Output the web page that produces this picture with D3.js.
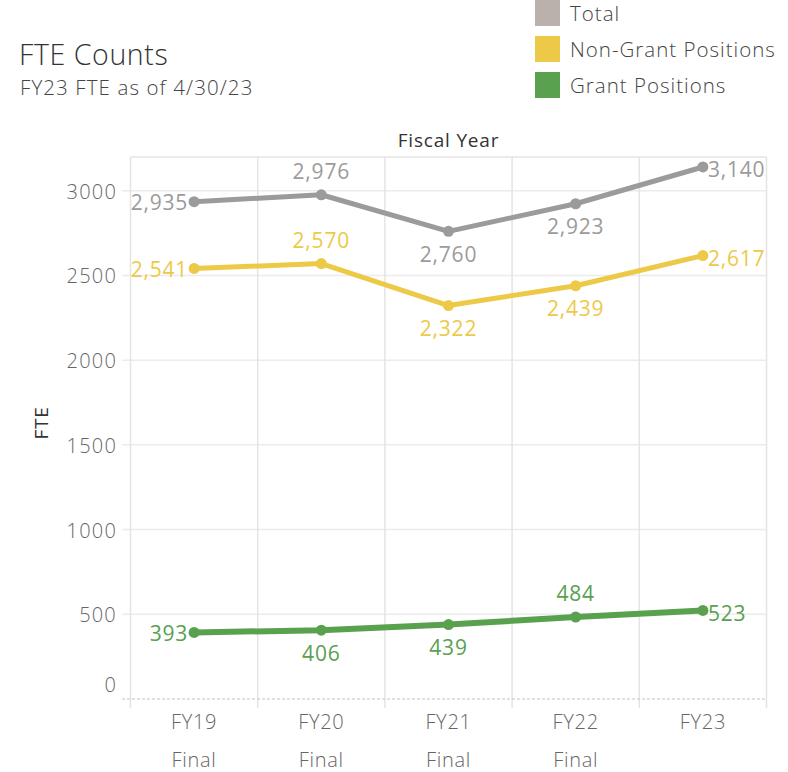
<!DOCTYPE html>
<html>
<head>
<meta charset="utf-8">
<script src="https://cdn.jsdelivr.net/npm/d3@7"></script>
<style>
  html, body { margin: 0; padding: 0; background: #fff; }
  svg { display: block; font-family: "Open Sans", sans-serif; }
</style>
</head>
<body>
<svg id="chart" width="788" height="772"></svg>
<script>
const years = ["FY19", "FY20", "FY21", "FY22", "FY23"];
const yearSub = ["Final", "Final", "Final", "Final", ""];
const seriesNames = ["Total", "Non-Grant Positions", "Grant Positions"];
const totalValues = [2935, 2976, 2760, 2923, 3140];
const nonGrantValues = [2541, 2570, 2322, 2439, 2617];
const grantValues = [393, 406, 439, 484, 523];
const yTicks = [0, 500, 1000, 1500, 2000, 2500, 3000];
// label placement per point: l = left, a = above, b = below, r = right
const totalLabelPos = ["l", "a", "b", "b", "r"];
const nonGrantLabelPos = ["l", "a", "b", "b", "r"];
const grantLabelPos = ["l", "b", "b", "a", "r"];

const lineColors = ["#9b9b9b", "#edc948", "#59a14f"];
const swatchColors = ["#bab0ac", "#edc948", "#59a14f"];

const svg = d3.select("#chart");
const M = { left: 130.5, right: 766.5, top: 157, zero: 699 };

const x = d3.scaleBand().domain(years).range([M.left, M.right]);
const y = d3.scaleLinear().domain([0, 3000]).range([M.zero, 190.7]);

// Titles
svg.append("text").attr("x", 19).attr("y", 65).attr("font-size", 28.5)
  .attr("fill", "#333").attr("font-weight", 300).attr("letter-spacing", 0.6).text("FTE Counts");
svg.append("text").attr("x", 20).attr("y", 95).attr("font-size", 20.5)
  .attr("fill", "#444").attr("font-weight", 300).attr("letter-spacing", 1.1).text("FY23 FTE as of 4/30/23");

// Legend
const leg = svg.append("g");
seriesNames.forEach((name, i) => {
  leg.append("rect").attr("x", 535).attr("y", i * 36).attr("width", 25).attr("height", 26)
    .attr("fill", swatchColors[i]);
  leg.append("text").attr("x", 570).attr("y", i * 36 + 14).attr("dy", "0.35em")
    .attr("font-size", 20.5).attr("fill", "#444").attr("font-weight", 300)
    .attr("letter-spacing", 1.0).text(name);
});

// Column header
svg.append("text").attr("x", (M.left + M.right) / 2).attr("y", 147).attr("text-anchor", "middle")
  .attr("font-size", 19).attr("font-weight", 500).attr("letter-spacing", 0.8)
  .attr("fill", "#333").text("Fiscal Year");

// Y axis title
svg.append("text").attr("transform", `translate(48,423) rotate(-90)`).attr("text-anchor", "middle")
  .attr("font-size", 19).attr("font-weight", 500).attr("letter-spacing", 0.8)
  .attr("fill", "#333").text("FTE");

// Horizontal gridlines (extend as ticks)
yTicks.filter(t => t > 0).forEach(t => {
  svg.append("line").attr("x1", 122).attr("x2", M.right).attr("y1", y(t)).attr("y2", y(t))
    .attr("stroke", "#ececec").attr("stroke-width", 1.5);
});

// Vertical column separators
const bounds = years.map(d => x(d)).concat([M.right]);
bounds.forEach(b => {
  svg.append("line").attr("x1", b).attr("x2", b).attr("y1", M.top).attr("y2", 708)
    .attr("stroke", "#e4e4e4").attr("stroke-width", 1.5);
});
// Top border
svg.append("line").attr("x1", M.left).attr("x2", M.right).attr("y1", M.top).attr("y2", M.top)
  .attr("stroke", "#e4e4e4").attr("stroke-width", 1.5);

// Zero line dashed
svg.append("line").attr("x1", 122).attr("x2", M.right).attr("y1", y(0)).attr("y2", y(0))
  .attr("stroke", "#c4c4c4").attr("stroke-width", 1).attr("stroke-dasharray", "3,2");

// Y tick labels
yTicks.forEach(t => {
  svg.append("text").attr("x", 117).attr("y", t === 0 ? y(t) - 14 : y(t) + 1)
    .attr("dy", "0.35em").attr("text-anchor", "end").attr("font-size", 20)
    .attr("letter-spacing", 1.2).attr("font-weight", 300)
    .attr("fill", "#666").text(t);
});

// X labels
years.forEach((yr, i) => {
  const cx = x(yr) + x.bandwidth() / 2;
  svg.append("text").attr("x", cx).attr("y", 722).attr("dy", "0.35em").attr("text-anchor", "middle")
    .attr("font-size", 20).attr("font-weight", 300).attr("letter-spacing", 0.7)
    .attr("fill", "#666").text(yr);
  if (yearSub[i]) svg.append("text").attr("x", cx).attr("y", 760).attr("dy", "0.35em")
    .attr("text-anchor", "middle").attr("font-size", 20).attr("font-weight", 300)
    .attr("letter-spacing", 0.7).attr("fill", "#666").text(yearSub[i]);
});

// Series
const allSeries = [
  { vals: totalValues, pos: totalLabelPos, color: lineColors[0], w: 5 },
  { vals: nonGrantValues, pos: nonGrantLabelPos, color: lineColors[1], w: 5 },
  { vals: grantValues, pos: grantLabelPos, color: lineColors[2], w: 6 }
];
const fmt = d3.format(",");
const line = d3.line().x((d, i) => x(years[i]) + x.bandwidth() / 2).y(d => y(d));
allSeries.forEach(s => {
  svg.append("path").datum(s.vals).attr("d", line).attr("fill", "none")
    .attr("stroke", s.color).attr("stroke-width", s.w).attr("stroke-linejoin", "round");
  s.vals.forEach((v, i) => {
    const cx = x(years[i]) + x.bandwidth() / 2, cy = y(v);
    svg.append("circle").attr("cx", cx).attr("cy", cy).attr("r", 5.5).attr("fill", s.color);
    const t = svg.append("text").attr("font-size", 21).attr("letter-spacing", 0.8)
      .attr("fill", s.color).attr("dy", "0.35em").text(fmt(v));
    const p = s.pos[i];
    if (p === "l") t.attr("x", cx - 6).attr("y", cy + 1).attr("text-anchor", "end");
    else if (p === "r") t.attr("x", cx + 5).attr("y", cy + 3).attr("text-anchor", "start");
    else if (p === "a") t.attr("x", cx).attr("y", cy - 23).attr("text-anchor", "middle");
    else t.attr("x", cx).attr("y", cy + 23).attr("text-anchor", "middle");
  });
});
</script>
</body>
</html>
